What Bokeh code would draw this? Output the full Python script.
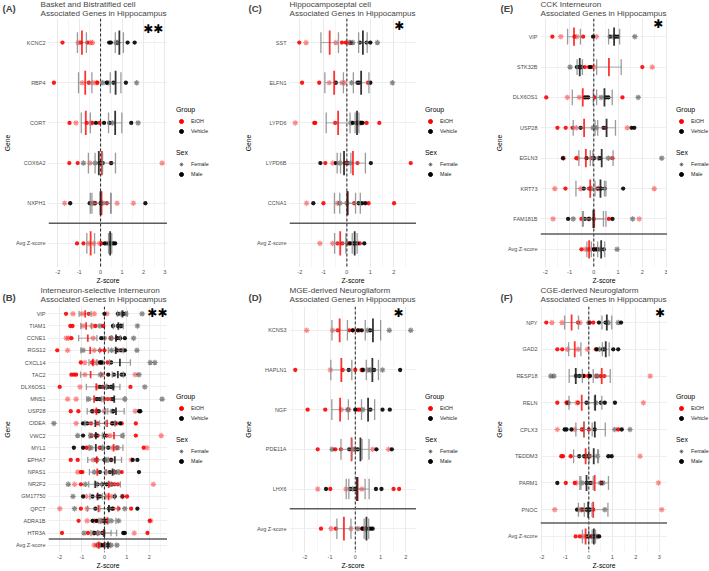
import math
import numpy as np
from bokeh.plotting import figure
from bokeh.models import Range1d, FixedTicker, Span, Label, Legend, LegendItem
from bokeh.layouts import row, column
from bokeh.embed import file_html
from bokeh.resources import INLINE

FONT = "Liberation Sans"
RED = "#FF0000"
BLACK = "#000000"

# ------------------------------------------------------------------ data
A_title = ["Basket and Bistratified cell", "Associated Genes in Hippocampus"]
A_genes = ["KCNC2", "RBP4", "CORT", "COX6A2", "NXPH1", "Avg Z-score"]
A_etoh = [[-1.78, -1.05, -0.92, -0.62, -0.48, -0.38],
          [-2.18, -0.86, -0.55, -0.37, -0.20, -0.15],
          [-1.45, -1.15, -0.65, -0.45, -0.40, -0.05],
          [-1.46, -1.07, -0.50, 0.05, 0.48, 2.87],
          [-1.68, -0.40, -0.25, 0.29, 0.77, 1.53],
          [-1.10, -0.80, -0.55, -0.32, -0.05, 0.04]]
A_etoh_sex = ["MFMMFF", "MFMFFM", "MFMFMM", "MMFMMF", "FFMMFF", "MMFFFM"]
A_veh = [[0.40, 0.48, 0.72, 0.80, 1.26, 1.59],
         [0.10, 0.29, 0.35, 0.60, 1.18, 1.68],
         [-0.22, 0.16, 0.41, 0.55, 1.43, 1.75],
         [-0.80, -0.25, -0.05, 0.00, 0.10, 0.50],
         [-1.42, -0.51, -0.30, 0.00, 0.10, 2.09],
         [0.19, 0.30, 0.40, 0.50, 0.60, 0.68]]
A_veh_sex = ["MMFFMM", "FMFMMF", "MMMFMF", "FFMMMM", "MMFMFM", "MFMFMM"]

B_title = ["Interneuron-selective Interneuron", "Associated Genes in Hippocampus"]
B_genes = ["VIP", "TIAM1", "CCNE1", "RGS12", "CXCL14", "TAC2", "DLX6OS1", "MNS1",
           "USP28", "CIDEA", "VWC2", "MYL1", "EPHA7", "NPAS1", "NR2F2", "GM17750",
           "QPCT", "ADRA1B", "HTR3A", "Avg Z-score"]
B_etoh = [[-1.71, -1.40, -1.00, -0.70, -0.45, 0.11],
          [-1.52, -1.42, -0.95, -0.55, -0.40, -0.05],
          [-1.70, -1.60, -1.47, -0.50, 0.28, 0.55],
          [-2.10, -1.64, -0.45, -0.20, 0.00, 0.60],
          [-1.05, -0.87, -0.55, -0.45, -0.30, 0.14],
          [-1.47, -1.36, -1.26, -0.87, -0.10, 1.37],
          [-1.99, -1.09, -0.30, -0.10, 0.15, 1.16],
          [-1.64, -1.26, -0.30, 0.00, 0.15, 0.30],
          [-1.50, -1.16, -0.50, -0.35, 0.00, 1.37],
          [-1.26, -0.60, -0.30, 0.35, 0.50, 0.77, 1.40],
          [-0.60, -0.40, -0.30, 0.10, 0.25, 1.40, 2.53],
          [-0.80, -0.70, -0.21, 0.35, 0.60, 1.75, 1.90],
          [-1.50, -1.19, -0.50, -0.35, 0.30, 1.20],
          [-1.19, -1.05, -0.98, 0.10, 0.45, 0.77],
          [-1.33, -1.05, 0.30, 0.45, 0.60, 2.18],
          [-0.80, -0.30, 0.10, 0.30, 0.81, 1.01],
          [-1.99, -1.05, -0.77, 0.40, 0.63, 1.19],
          [-1.15, -0.77, -0.45, -0.35, -0.20, -0.05, 0.10, 2.02, 2.06],
          [-1.89, -0.73, -0.50, -0.30, 1.33, 1.92],
          [-0.45, -0.35, -0.30, -0.20, -0.15, -0.05]]
B_etoh_sex = ["MFFMFF", "MMFFMM", "FFMFFM", "MFFMMF", "MFMFFM", "MMMFFF", "MFFMMM",
              "FFMMMM", "MMFMFF", "FMMMMMM", "FMMMFMF", "MFMFFMF", "MMFFFF", "FMMFFM",
              "FMFMMF", "FMFFMM", "FMFMMM", "MFFMFMMMF", "MMFFFM", "FFMMFM"]
B_veh = [[0.00, 0.60, 0.75, 0.85, 0.95, 1.68],
         [-0.20, 0.38, 0.60, 0.72, 0.75, 1.47],
         [-0.14, 0.00, 0.30, 0.56, 0.70, 0.91, 1.30],
         [-0.95, 0.32, 0.55, 0.74, 0.91, 1.45],
         [-0.20, -0.14, -0.10, 0.30, 2.04, 2.25],
         [-0.18, 0.17, 0.42, 0.77, 0.87, 1.54],
         [-0.20, 0.00, 0.15, 0.30, 0.35, 1.80],
         [-0.70, -0.35, -0.20, 0.38, 0.91, 2.57],
         [-0.55, -0.25, 0.35, 0.40, 1.55, 1.60],
         [-2.25, -0.95, -0.77, 0.35, 0.50, 0.70],
         [-1.19, -0.95, -0.60, -0.35, 0.00, 0.80],
         [-1.36, -0.95, -0.60, -0.10, 0.17, 0.55],
         [-0.35, 0.00, 0.10, 0.30, 1.26, 1.47],
         [-0.45, -0.20, 0.25, 0.45, 0.60, 1.54],
         [-1.61, -0.85, -0.30, -0.10, 0.10, 0.30],
         [-1.40, -0.95, -0.53, -0.20, 0.46, 0.80],
         [-1.33, -0.40, 0.20, 0.35, 0.91, 1.47],
         [-0.53, -0.35, -0.10, 0.10, 0.30, 0.63],
         [-0.91, -0.45, -0.30, -0.10, 0.84, 0.91],
         [-0.15, -0.05, 0.10, 0.20, 0.30, 0.56]]
B_veh_sex = ["MMFMFF", "FMMFMF", "MFFMMMF", "FFMMMF", "MMFMFF", "FMMMMF", "MFMMFF",
             "FMMMFF", "MMFMMM", "FMMMFM", "FMFMMF", "MMFFMF", "FMFMMM", "FMMFFM",
             "FFMMMF", "FMMMMF", "FMMMFM", "MMFMFF", "FMFMMM", "MFMMFF"]

C_title = ["Hippocamposeptal cell", "Associated Genes in Hippocampus"]
C_genes = ["SST", "ELFN1", "LYPD6", "LYPD6B", "CCNA1", "Avg Z-score"]
C_etoh = [[-2.03, -1.74, -0.47, -0.21, -0.05, 0.10],
          [-1.91, -1.18, -0.75, -0.21, -0.11, 0.90],
          [-2.20, -1.39, -1.35, -0.50, 0.60, 0.84, 1.38],
          [-0.92, -0.60, -0.10, 0.00, 0.45, 2.72],
          [-1.72, -1.00, -0.40, 0.31, 0.92, 2.01],
          [-1.15, -0.61, -0.40, -0.20, 0.10, 0.55]]
C_etoh_sex = ["MFFMMF", "MMFFFM", "FMMMFMM", "MFMMMM", "FMFMMM", "FFMMMM"]
C_veh = [[0.15, 0.25, 0.55, 0.84, 1.00, 1.30],
         [-0.47, 0.20, 0.45, 0.52, 1.00, 1.94],
         [0.17, 0.25, 0.40, 0.50, 0.60, 0.67],
         [-1.13, -0.47, -0.30, 0.00, 0.15, 1.02],
         [-1.43, -0.30, 0.00, 0.50, 0.64, 0.78],
         [0.00, 0.15, 0.30, 0.35, 0.45, 0.74]]
C_veh_sex = ["FFMMMF", "MFMMMF", "FMMFMM", "MMFFFM", "MFFMMM", "FMMFMM"]

D_title = ["MGE-derived Neurogliaform", "Associated Genes in Hippocampus"]
D_genes = ["KCNS3", "HAPLN1", "NGF", "PDE11A", "LHX6", "Avg Z-score"]
D_etoh = [[-1.93, -0.90, -0.70, -0.24, -0.10, 0.16],
          [-2.38, -0.99, -0.50, 0.00, 0.25, 0.30],
          [-1.89, -1.19, -0.55, -0.26, 0.10, 0.18],
          [-1.49, -0.79, -0.57, -0.05, 0.69, 1.32],
          [-1.49, -0.99, -0.37, 0.00, 0.26, 1.52, 1.74],
          [-1.36, -0.96, -0.77, -0.17, 0.26, 0.30]]
D_etoh_sex = ["FFMMMM", "MFMMMF", "MMFFMM", "MMMFFF", "FMFMFMM", "MFMFMM"]
D_veh = [[-0.10, 0.10, 0.26, 0.50, 0.60, 1.35, 2.20],
         [-0.26, 0.30, 0.50, 0.60, 0.75, 1.08, 1.78],
         [-0.30, 0.00, 0.30, 0.60, 1.08, 1.37],
         [-0.92, -0.24, 0.00, 0.10, 0.84, 1.45],
         [-1.16, -0.20, -0.10, 0.00, 0.82, 1.04],
         [0.10, 0.30, 0.40, 0.55, 0.62, 0.69]]
D_veh_sex = ["MMMFMFF", "MMFFMFM", "FMFMMM", "FMFMMM", "MMFMMM", "FMFMMM"]

E_title = ["CCK Interneuron", "Associated Genes in Hippocampus"]
E_genes = ["VIP", "STK32B", "DLX6OS1", "USP28", "EGLN3", "KRT73", "FAM181B", "Avg Z-score"]
E_etoh = [[-1.71, -1.36, -0.80, -0.70, -0.44, 0.11],
          [-0.37, -0.20, -0.10, 0.00, 2.00, 2.41],
          [-1.96, -1.09, -0.60, -0.30, 0.04, 1.18],
          [-1.50, -1.16, -0.88, -0.72, 0.48, 1.38],
          [-1.25, -0.72, -0.67, -0.10, 0.00, 0.77],
          [-1.61, -1.17, -0.54, -0.20, 0.14, 2.49],
          [-1.68, -0.51, -0.20, 0.00, 0.62, 1.87],
          [-0.51, -0.35, -0.25, -0.15, 0.00, 0.10]]
E_etoh_sex = ["MFMFMF", "MMMFMF", "MFFMMM", "MMMFMF", "FMFMMM", "FMFMMF", "FMFMMF", "MFMFMM"]
E_veh = [[-0.03, 0.66, 0.80, 0.90, 1.00, 1.69],
         [-0.98, -0.70, -0.60, -0.55, -0.50, -0.15],
         [-0.37, -0.23, 0.30, 0.50, 0.60, 1.83],
         [-0.54, -0.03, 0.10, 0.40, 1.56, 1.67],
         [-1.27, -0.30, 0.00, 0.20, 0.25, 0.60, 2.80],
         [-0.41, -0.10, 0.20, 0.30, 0.45, 1.21],
         [-1.06, -0.85, -0.37, -0.20, 0.77, 1.60],
         [0.00, 0.05, 0.15, 0.25, 0.41, 0.96]]
E_veh_sex = ["MMFMMF", "FMMFMM", "MMFMMF", "MFFMMM", "MMMFMFF", "MFFMMM", "MFMMMF", "MFMFMF"]

F_title = ["CGE-derived Neuroglaform", "Associated Genes in Hippocampus"]
F_genes = ["NPY", "GAD2", "RESP18", "RELN", "CPLX3", "TEDDM3", "PARM1", "PNOC", "Avg Z-score"]
F_etoh = [[-1.81, -1.57, -1.14, -0.46, -0.38, 0.04, 0.19],
          [-1.34, -1.13, -0.91, -0.45, -0.06, 0.30],
          [-0.20, -0.03, 0.00, 0.30, 0.50, 0.66, 2.61],
          [-1.34, -0.95, -0.88, -0.50, -0.46, 2.32],
          [-1.34, -0.60, -0.30, -0.24, 0.00, 1.25],
          [-1.17, -1.10, -0.77, 0.00, 0.04, 2.18],
          [-0.98, -0.60, -0.53, 0.10, 0.54, 2.96],
          [-1.45, -0.38, -0.25, -0.10, 0.19, 3.10],
          [-0.56, -0.38, -0.24, -0.10, 0.10, 0.35]]
F_etoh_sex = ["MFFMFMM", "MMFFFM", "MMMFMMF", "MMFFMF", "FFMMMM", "MMMMFF", "MMFMMF", "FFMFMF", "MMFFMF"]
F_veh = [[0.00, 0.43, 0.71, 0.83, 1.25, 1.37],
         [0.33, 0.45, 0.60, 0.65, 1.04, 1.25],
         [-1.62, -1.48, -0.55, -0.40, -0.24, 0.05, 0.35],
         [-0.88, -0.10, 0.30, 0.51, 0.68, 1.11],
         [-1.03, -0.95, -0.74, 0.25, 1.10, 1.40, 1.75],
         [-0.41, -0.20, -0.10, 0.00, 0.37, 0.83, 0.97],
         [-1.34, -0.30, -0.10, 0.05, 0.50, 0.60],
         [-0.50, -0.30, -0.10, 0.00, 0.05, 0.68],
         [-0.05, 0.10, 0.19, 0.25, 0.35, 0.44]]
F_veh_sex = ["FMMFFM", "MFMFMM", "FFMMMMF", "FMFMMM", "MMMMFMF", "MMFFFMM", "MFMMFF", "MFMMMF", "MFMMFM"]

SIG_A, SIG_B, SIG_C, SIG_D, SIG_E, SIG_F = "✱✱", "✱✱", "✱", "✱", "✱", "✱"


# ------------------------------------------------------------------ helpers
def blank(w, h):
    f = figure(width=w, height=h, min_border=0, x_range=Range1d(0, w), y_range=Range1d(0, h),
               x_axis_location=None, y_axis_location=None,
               output_backend="svg", toolbar_location=None)
    f.outline_line_color = None
    f.grid.visible = False
    f.background_fill_color = "white"
    f.border_fill_color = "white"
    return f


def panel(letter, title, genes, etoh, etoh_sex, veh, veh_sex, sig, sig_pos, lb, W, top, letter_x):
    n = len(genes)
    FWID = 127
    RB = W - lb - FWID
    BB = 18
    if top:
        TB, MH = 18, 268            # header height, main height (frame 250 + axis 18)
        d1, d2, dl = 14.2, 5.3, 10.5
        l1_off, l2_off = 119, 162
    else:
        TB, MH = 20, 265            # frame 247 + axis 18
        d1, d2, dl = 16.0, 6.6, 9.2
        l1_off, l2_off = 118, 161
    FH = MH - BB

    # ---- header (panel letter + two-line title)
    hd = blank(W, TB)
    hd.add_layout(Label(x=letter_x, y=dl, text=letter, text_font=FONT, text_font_size="9.6px",
                        text_font_style="bold", text_baseline="middle"))
    hd.add_layout(Label(x=lb, y=d1, text=title[0], text_font=FONT, text_font_size="8.1px",
                        text_baseline="middle"))
    hd.add_layout(Label(x=lb, y=d2, text=title[1], text_font=FONT, text_font_size="8.1px",
                        text_baseline="middle"))

    # ---- main plot
    allv = np.concatenate([np.asarray(v, float) for v in etoh + veh])
    lo, hi = float(allv.min()), float(allv.max())
    pad = 0.05 * (hi - lo)
    x0, x1 = lo - pad, hi + pad

    p = figure(width=lb + FWID, height=MH, min_border_left=lb, min_border_right=0,
               min_border_top=0, min_border_bottom=BB,
               x_range=Range1d(x0, x1), y_range=Range1d(0.4, n + 0.6),
               output_backend="svg", toolbar_location=None)
    p.outline_line_color = None
    p.background_fill_color = "white"
    p.border_fill_color = "white"

    ticks = list(range(math.ceil(x0), math.floor(x1) + 1))
    minors = [t + 0.5 for t in range(math.ceil(x0) - 1, math.floor(x1) + 1) if x0 < t + 0.5 < x1]
    xt = FixedTicker(ticks=ticks, minor_ticks=minors)
    p.xaxis.ticker = xt
    p.xgrid.ticker = xt
    p.xaxis.major_label_overrides = {t: str(t) for t in ticks}
    yt = FixedTicker(ticks=list(range(1, n + 1)), minor_ticks=[])
    p.yaxis.ticker = yt
    p.ygrid.ticker = yt
    p.yaxis.major_label_overrides = {n - i: g for i, g in enumerate(genes)}

    for ax in (p.xaxis[0], p.yaxis[0]):
        ax.axis_line_color = None
        ax.major_tick_line_color = None
        ax.minor_tick_line_color = None
        ax.major_tick_out = 0
        ax.major_tick_in = 0
        ax.minor_tick_out = 0
        ax.minor_tick_in = 0
        ax.major_label_text_font = FONT
        ax.major_label_text_font_size = "5.5px"
        ax.major_label_text_color = "#4d4d4d"
        ax.axis_label_text_font = FONT
        ax.axis_label_text_font_size = "6.8px"
        ax.axis_label_text_font_style = "normal"
        ax.axis_label_text_color = "#000000"
    p.xaxis.axis_label = "Z-score"
    p.yaxis.axis_label = "Gene"
    p.xaxis.major_label_standoff = 2
    p.xaxis.axis_label_standoff = 0
    p.yaxis.major_label_standoff = 3
    p.yaxis.axis_label_standoff = 2

    p.xgrid.grid_line_color = "#e3e3e3"
    p.xgrid.grid_line_width = 0.8
    p.xgrid.minor_grid_line_color = "#f0f0f0"
    p.xgrid.minor_grid_line_width = 0.6
    p.ygrid.grid_line_color = "#ebebeb"
    p.ygrid.grid_line_width = 0.8

    p.add_layout(Span(location=0, dimension="height", line_color="#222222",
                      line_dash="3 2", line_width=1))
    p.add_layout(Span(location=1.5, dimension="width", line_color="#5c5c5c", line_width=1.5))

    # individual points
    for vals, sexes, col in ((etoh, etoh_sex, RED), (veh, veh_sex, BLACK)):
        mx, my, fx, fy = [], [], [], []
        for i, (v, s) in enumerate(zip(vals, sexes)):
            for val, sx in zip(v, s):
                if sx == "M":
                    mx.append(val); my.append(n - i)
                else:
                    fx.append(val); fy.append(n - i)
        p.scatter(mx, my, marker="circle", size=4.3, fill_color=col, line_color=None,
                  fill_alpha=0.9)
        p.scatter(fx, fy, marker="asterisk", size=5.5, line_color=col, line_alpha=0.45,
                  line_width=1.2)

    # mean +/- se summaries
    ys = np.array([n - i for i in range(n)], dtype=float)
    for vals, col, alpha in ((etoh, RED, 0.8), (veh, "#1f1f1f", 0.9)):
        m = np.array([np.mean(v) for v in vals])
        se = np.array([np.std(v, ddof=1) / np.sqrt(len(v)) for v in vals])
        p.segment(m - se, ys, m + se, ys, line_color="#8a8a8a", line_width=0.8, line_alpha=0.9)
        cx = np.r_[m - se, m + se]
        cy = np.r_[ys, ys]
        p.segment(cx, cy - 0.26, cx, cy + 0.26, line_color="#8a8a8a", line_width=1.3,
                  line_alpha=0.85)
        p.segment(m, ys - 0.3, m, ys + 0.3, line_color=col, line_width=1.8, line_alpha=alpha)

    # significance mark
    p.add_layout(Label(x=sig_pos[0], y=sig_pos[1], text=sig, text_font="DejaVu Sans",
                       text_font_size="12px", text_align="center", text_baseline="middle",
                       text_color="#000000"))

    # ---- legend strip (its frame is aligned with the main frame: height FH)
    lg_fig = blank(RB, MH)
    rE = lg_fig.scatter([-100], [-100], marker="circle", size=4, color=RED)
    rV = lg_fig.scatter([-100], [-100], marker="circle", size=4, color=BLACK)
    rF = lg_fig.scatter([-100], [-100], marker="asterisk", size=4, line_color="#555555",
                        line_alpha=0.7, line_width=1)
    rM = lg_fig.scatter([-100], [-100], marker="circle", size=4, color=BLACK)
    for ttl, items, yoff in (("Group", [("EtOH", rE), ("Vehicle", rV)], l1_off),
                             ("Sex", [("Female", rF), ("Male", rM)], l2_off)):
        lg = Legend(items=[LegendItem(label=lab, renderers=[r]) for lab, r in items],
                    title=ttl, location=(9, FH - yoff), orientation="vertical",
                    border_line_color=None, background_fill_alpha=0, padding=0, margin=0,
                    spacing=0, glyph_width=10, glyph_height=10, label_height=10,
                    label_standoff=5, title_standoff=3,
                    title_text_font=FONT, title_text_font_size="6.9px",
                    title_text_font_style="normal", title_text_color="#000000",
                    label_text_font=FONT, label_text_font_size="5.3px",
                    label_text_color="#1a1a1a")
        lg_fig.add_layout(lg)

    return column(hd, row(p, lg_fig))


pA = panel("(A)", A_title, A_genes, A_etoh, A_etoh_sex, A_veh, A_veh_sex, SIG_A, (2.46, 6.33), 40, 236, True, 2)
pB = panel("(B)", B_title, B_genes, B_etoh, B_etoh_sex, B_veh, B_veh_sex, SIG_B, (2.36, 20.05), 40, 236, False, 2)
pC = panel("(C)", C_title, C_genes, C_etoh, C_etoh_sex, C_veh, C_veh_sex, SIG_C, (2.23, 6.41), 53, 236, True, 12)
pD = panel("(D)", D_title, D_genes, D_etoh, D_etoh_sex, D_veh, D_veh_sex, SIG_D, (1.72, 6.44), 53, 236, False, 12)
pE = panel("(E)", E_title, E_genes, E_etoh, E_etoh_sex, E_veh, E_veh_sex, SIG_E, (2.66, 8.41), 68, 237, True, 28)
pF = panel("(F)", F_title, F_genes, F_etoh, F_etoh_sex, F_veh, F_veh_sex, SIG_F, (3.03, 9.37), 68, 237, False, 28)

layout = column(row(pA, pC, pE), row(pB, pD, pF))
open("out.html", "w").write(file_html(layout, INLINE))
